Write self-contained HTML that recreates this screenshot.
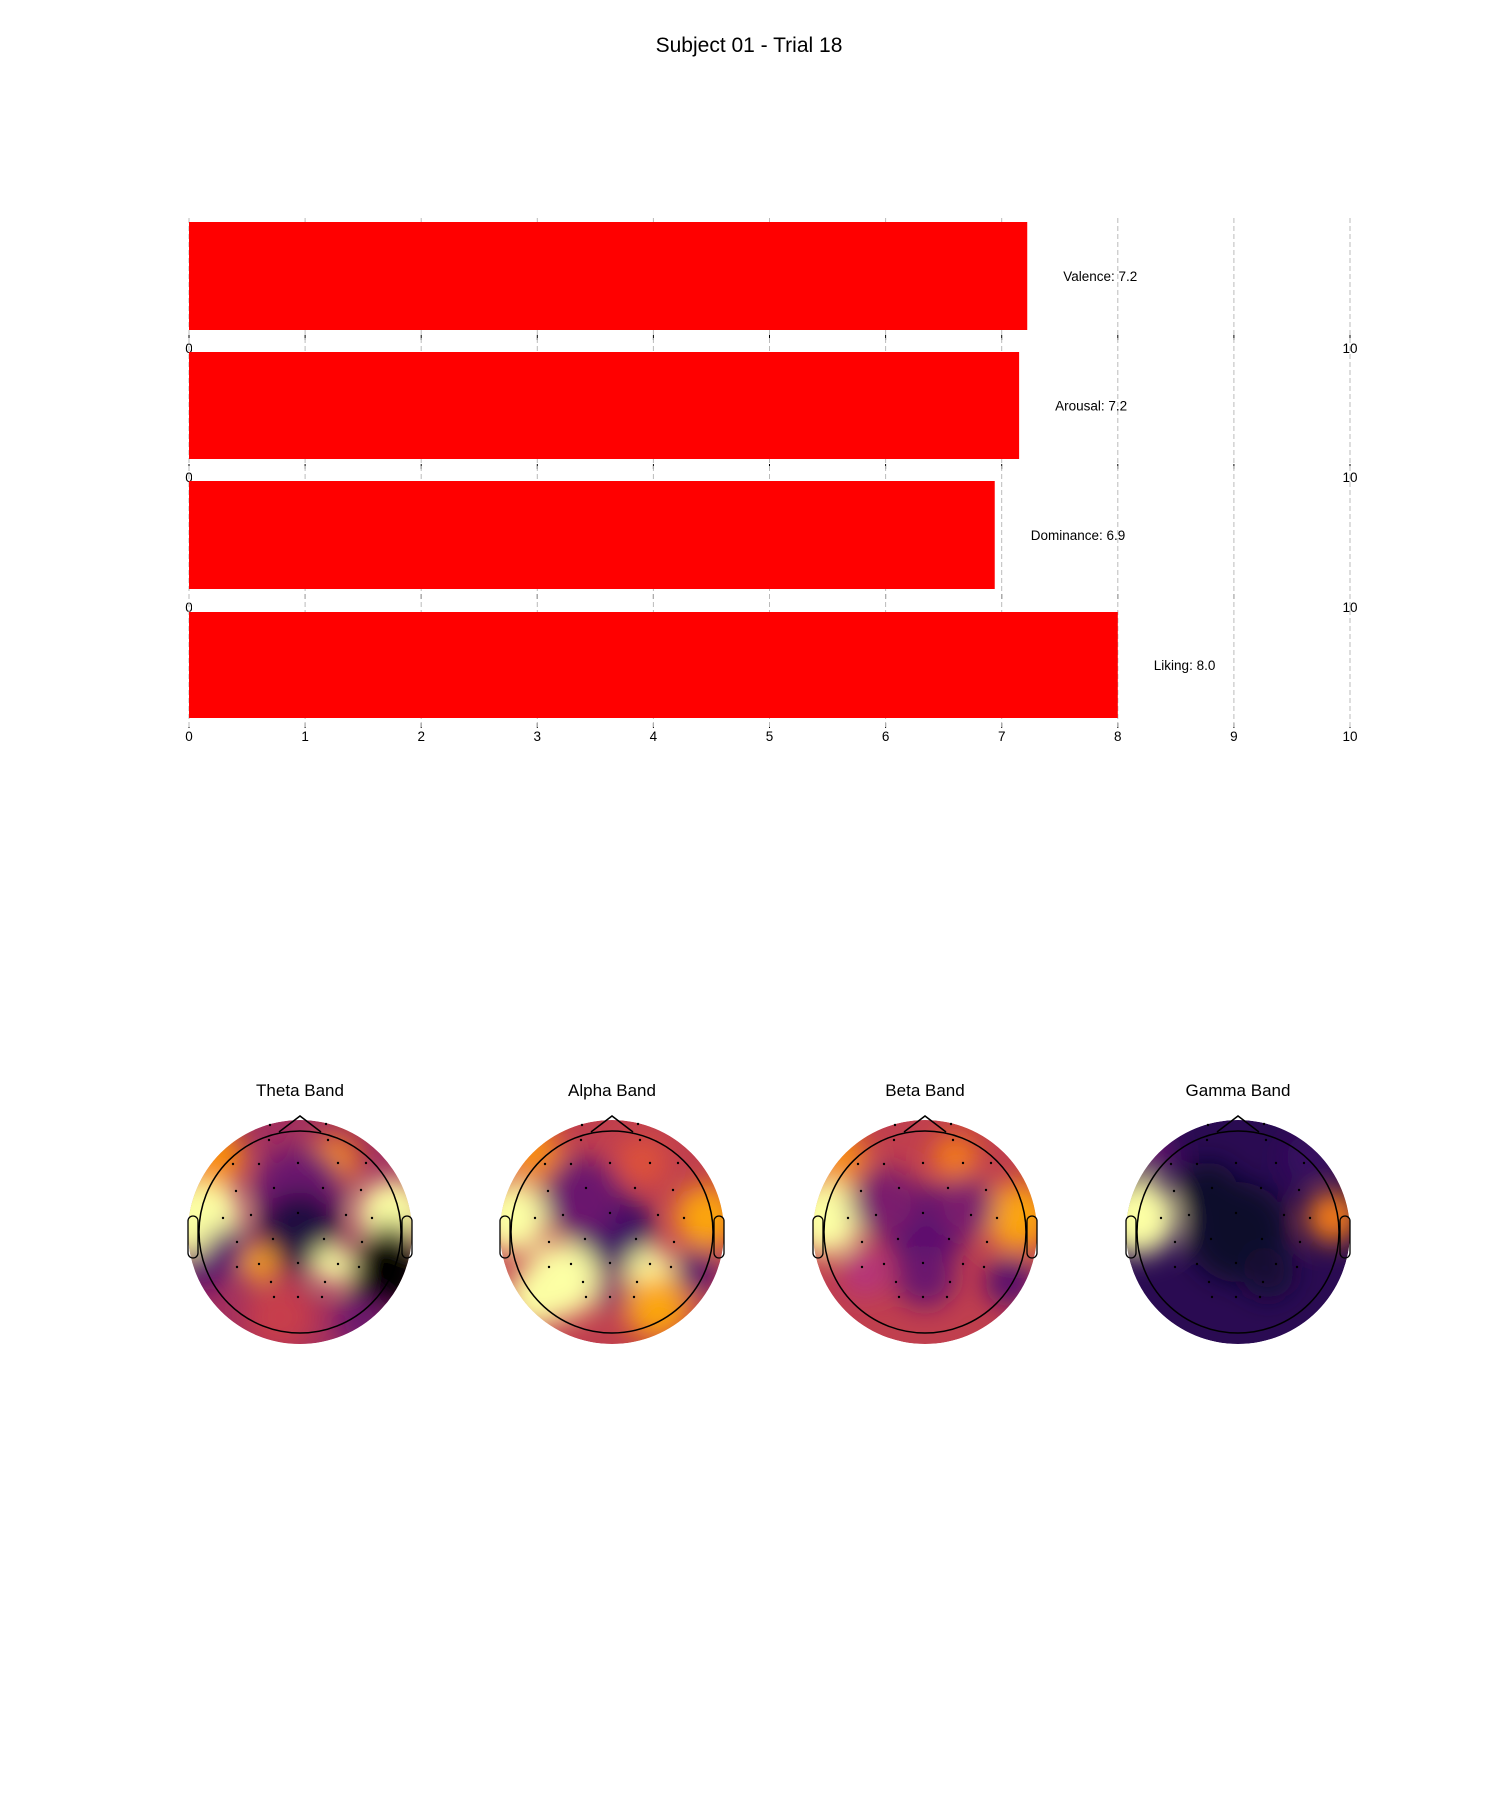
<!DOCTYPE html>
<html><head><meta charset="utf-8"><style>
html,body{margin:0;padding:0;background:#fff}
svg{display:block;font-family:"Liberation Sans","DejaVu Sans",sans-serif}
</style></head><body>
<svg id="fig" width="1500" height="1800" viewBox="0 0 1500 1800" xmlns="http://www.w3.org/2000/svg">
<defs>
<filter id="blur" x="-50%" y="-50%" width="200%" height="200%"><feGaussianBlur stdDeviation="13"/></filter>
</defs>
<text x="749" y="52" text-anchor="middle" font-size="21" fill="#000">Subject 01 - Trial 18</text>
<g id="bars"></g>
<g id="topos"></g>
</svg>
<script>
const categories = ["Valence","Arousal","Dominance","Liking"];
const ratings = [7.22, 7.15, 6.94, 8.0];
const labelValues = ["7.2","7.2","6.9","8.0"];
const ticks = [0,1,2,3,4,5,6,7,8,9,10];

const NS = "http://www.w3.org/2000/svg";
function mk(tag, attrs, parent){const e=document.createElementNS(NS,tag);for(const k in attrs)e.setAttribute(k,attrs[k]);parent.appendChild(e);return e;}
const x0=189, x1=1350;
function xs(v){return x0+(x1-x0)*v/10;}
const panelTop=[222,352,481,612], panelH=[108,107,108,106];
const bars=document.getElementById('bars');
categories.forEach((c,i)=>{
  const top=panelTop[i], h=panelH[i];
  const axY=top+h+5;
  for(const tk of ticks){
    const tm=mk('line',{x1:xs(tk),x2:xs(tk),y1:axY,y2:axY+5,stroke:'#000','stroke-width':1},bars);
    
    
    const tl=mk('text',{x:xs(tk),y:axY+18,'font-size':13.5,'text-anchor':'middle',fill:'#000'},bars);
    tl.textContent=tk;
    
    
  }
});
for(let i=1;i<4;i++){
  const bg=mk('rect',{x:x0+3,y:panelTop[i]-12,width:x1-x0-10,height:20,fill:'#fff'},bars);
  
  
}
for(const t of ticks){
  const l=mk('line',{x1:xs(t),x2:xs(t),y1:218,y2:727,stroke:'#bbb','stroke-width':1,'stroke-dasharray':'5,3'},bars);
  
  
}
categories.forEach((c,i)=>{
  const top=panelTop[i], h=panelH[i];
  const r=mk('rect',{x:xs(0),y:top,width:xs(ratings[i])-xs(0),height:h,fill:'#ff0000'},bars);
  
  
  const t=mk('text',{x:xs(ratings[i])+36,y:top+h/2+5,'font-size':13.5,fill:'#000'},bars);
  t.textContent=c+': '+labelValues[i];
  
  
});

const bands=["Theta Band","Alpha Band","Beta Band","Gamma Band"];
const bandBase=["#a3305e","#c03f4e","#c03f4e","#2a0b52"];
const thetaBlobs=[[-100,-15,42,"#fcffa4"],[-95,-5,34,"#fcffa4"],[93,-17,36,"#fcffa4"],[32,-70,26,"#f98e09"],[-85,-75,30,"#f98e09"],[0,-40,45,"#6a176e"],[0,0,40,"#1b0c41"],[-70,20,25,"#5c126e"],[87,40,38,"#000004"],[90,15,24,"#000004"],[33,33,20,"#fcffa4"],[-40,31,18,"#fca50a"],[-20,85,35,"#c73e4c"],[60,90,25,"#6a176e"],[-100,40,20,"#57106e"]];
const alphaBlobs=[[-100,-15,36,"#fcffa4"],[95,-15,32,"#fca50a"],[-80,-80,28,"#f98e09"],[30,-70,25,"#dd513a"],[0,0,42,"#3a0963"],[-30,-35,40,"#6a176e"],[-50,48,38,"#fcffa4"],[-75,65,30,"#fcffa4"],[38,40,24,"#fcffa4"],[45,75,32,"#fca50a"],[85,40,22,"#57106e"],[0,60,18,"#8a226a"]];
const betaBlobs=[[-100,-15,38,"#fcffa4"],[93,-15,34,"#fca50a"],[-85,-75,26,"#f98e09"],[30,-75,22,"#f57d15"],[0,-5,42,"#57106e"],[-40,-30,35,"#7a1d6d"],[40,-25,30,"#7a1d6d"],[0,45,30,"#6a176e"],[85,50,25,"#57106e"],[-60,40,25,"#b5367a"]];
const gammaBlobs=[[-100,-15,38,"#fcffa4"],[-90,-10,28,"#fcffa4"],[95,-15,26,"#f57d15"],[0,0,50,"#0d0829"],[-30,-40,30,"#0d0829"],[30,40,26,"#140b34"],[-90,-80,25,"#6a176e"],[70,-75,22,"#3a0963"]];
const allBlobs=[thetaBlobs,alphaBlobs,betaBlobs,gammaBlobs];
const electrodes=[[-30,-107],[26,-108],[-31,-92],[28,-92],[-67,-68],[-41,-68],[-2,-69],[38,-69],[66,-69],[-64,-41],[-26,-44],[23,-44],[61,-42],[-77,-14],[-49,-17],[-2,-19],[46,-17],[72,-14],[-63,10],[-27,7],[24,7],[62,10],[-63,35],[-41,32],[-2,31],[38,32],[59,35],[-29,50],[25,50],[-26,65],[-2,65],[22,65]];
const centersX=[300,612,925,1238], cy=1232, R=112, Ro=101;
const topos=document.getElementById('topos');
bands.forEach((b,i)=>{
  const cx=centersX[i];
  const g=mk('g',{},topos);
  
  
  const t=mk('text',{x:cx,y:1096,'text-anchor':'middle','font-size':17,fill:'#000'},g);
  t.textContent=b;
  
  
  const cp=mk('clipPath',{id:'clip'+i},g);
  mk('circle',{cx:cx,cy:cy,r:R},cp);
  const heat=mk('g',{'clip-path':'url(#clip'+i+')'},g);
  
  
  mk('circle',{cx:cx,cy:cy,r:R,fill:bandBase[i]},heat);
  const bl=mk('g',{filter:'url(#blur)'},heat);
  for(const [dx,dy,r,c] of allBlobs[i]){
    const e=mk('circle',{cx:cx+dx,cy:cy+dy,r:r,fill:c},bl);
    
    
  }
  const head=mk('circle',{cx:cx,cy:cy,r:Ro,fill:'none',stroke:'#000','stroke-width':1.5},g);
  
  
  const nose=mk('polyline',{points:`${cx-21},${cy-100} ${cx},${cy-116} ${cx+21},${cy-100}`,fill:'none',stroke:'#000','stroke-width':1.5},g);
  
  
  [-1,1].forEach(s=>{
    const ear=mk('rect',{x:s<0?cx-112:cx+102,y:cy-16,width:10,height:42,rx:5,fill:'none',stroke:'#000','stroke-width':1.3},g);
    
    
  });
  for(const [dx,dy] of electrodes){
    const d=mk('circle',{cx:cx+dx,cy:cy+dy,r:1.2,fill:'#000'},g);
    
    
  }
});
</script>
</body></html>
